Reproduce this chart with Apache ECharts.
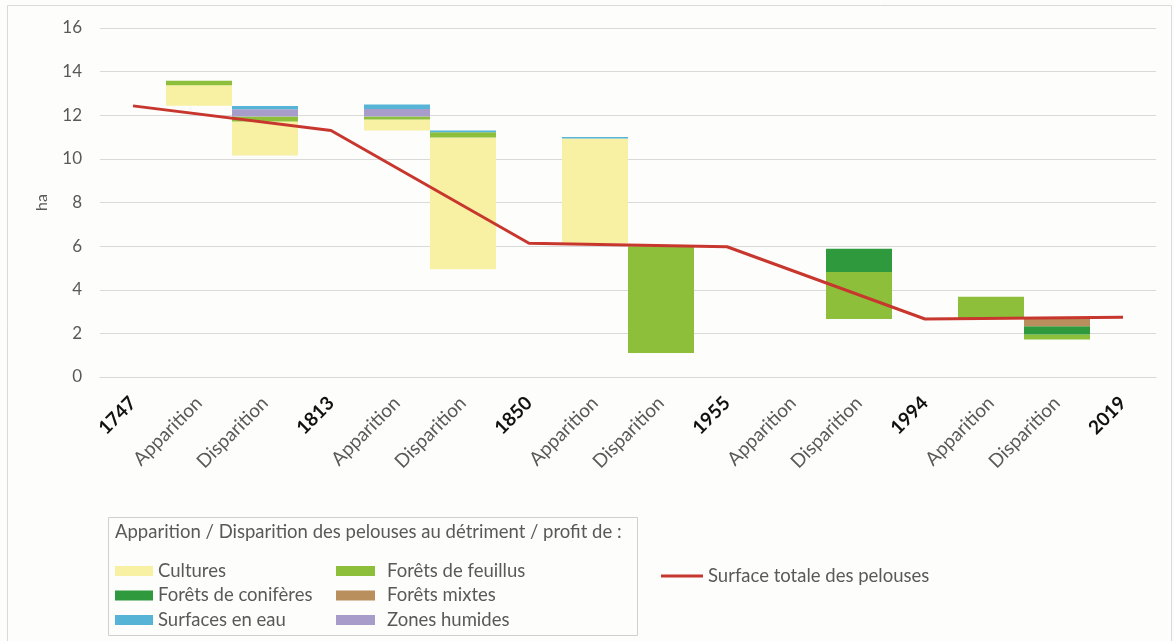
<!DOCTYPE html>
<html>
<head>
<meta charset="utf-8">
<script src="https://cdn.jsdelivr.net/npm/echarts@6/dist/echarts.min.js"></script>
<style>
  html, body { margin: 0; padding: 0; background: #fdfdfc; }
  #chart { width: 1174px; height: 641px; }
</style>
</head>
<body>
<div id="chart"></div>
<script>
// Surface totale des pelouses (ha) aux dates de référence
const years = ['1747', '1813', '1850', '1955', '1994', '2019'];
const surface = [12.43, 11.3, 6.13, 5.97, 2.66, 2.74];

// Apparition (gains) par période, selon l'occupation antérieure
const gainCultures  = [0.95, 0.50, 4.80, 0, 0];
const gainFeuillus  = [0.20, 0.14, 0, 0, 1.02];
const gainConiferes = [0, 0, 0, 0, 0];
const gainMixtes    = [0, 0, 0, 0, 0];
const gainHumides   = [0, 0.35, 0, 0, 0];
const gainEau       = [0, 0.20, 0.07, 0, 0];

// Disparition (pertes) par période, selon l'occupation postérieure
const lossCultures  = [1.56, 6.04, 0, 0, 0];
const lossFeuillus  = [0.23, 0.24, 4.90, 2.15, 0.23];
const lossConiferes = [0, 0, 0, 1.07, 0.38];
const lossMixtes    = [0, 0, 0, 0, 0.38];
const lossHumides   = [0.33, 0, 0, 0, 0];
const lossEau       = [0.15, 0.08, 0, 0, 0];

const labelApparition = 'Apparition';
const labelDisparition = 'Disparition';

const categories = [];
years.forEach((y, i) => {
  categories.push(y);
  if (i < years.length - 1) {
    categories.push(labelApparition, labelDisparition);
  }
});

const nPeriods = years.length - 1;
const gainsAll = [gainCultures, gainFeuillus, gainConiferes, gainMixtes, gainHumides, gainEau];

// Invisible base of each floating column
const baseData = categories.map(() => null);
for (let p = 0; p < nPeriods; p++) {
  const totalGain = gainsAll.reduce((s, arr) => s + arr[p], 0);
  baseData[3 * p + 1] = surface[p];
  baseData[3 * p + 2] = +(surface[p + 1] - totalGain).toFixed(3);
}

function pieceData(gain, loss) {
  const d = categories.map(() => null);
  for (let p = 0; p < nPeriods; p++) {
    d[3 * p + 1] = gain[p] || null;
    d[3 * p + 2] = loss[p] || null;
  }
  return d;
}

const lineData = categories.map(() => null);
years.forEach((y, i) => { lineData[3 * i] = surface[i]; });

const font = 'Lato, "Open Sans", sans-serif';
const grey = '#595959';

const pieces = [
  { name: 'Cultures',            color: '#f8f1a3', gain: gainCultures,  loss: lossCultures },
  { name: 'Forêts de feuillus',  color: '#8dbf3b', gain: gainFeuillus,  loss: lossFeuillus },
  { name: 'Forêts de conifères', color: '#2e9a3d', gain: gainConiferes, loss: lossConiferes },
  { name: 'Forêts mixtes',       color: '#b98f5d', gain: gainMixtes,    loss: lossMixtes },
  { name: 'Zones humides',       color: '#a89cca', gain: gainHumides,   loss: lossHumides },
  { name: 'Surfaces en eau',     color: '#56b4d6', gain: gainEau,       loss: lossEau }
];

const series = [{
  name: 'base',
  type: 'bar',
  stack: 'flux',
  barWidth: '100%',
  barCategoryGap: '0%',
  itemStyle: { color: 'transparent' },
  emphasis: { disabled: true },
  data: baseData,
  silent: true
}];
pieces.forEach(pc => {
  series.push({
    name: pc.name,
    type: 'bar',
    stack: 'flux',
    barWidth: '100%',
    barCategoryGap: '0%',
    itemStyle: { color: pc.color },
    data: pieceData(pc.gain, pc.loss)
  });
});
series.push({
  name: 'Surface totale des pelouses',
  type: 'line',
  data: lineData,
  connectNulls: true,
  symbol: 'none',
  lineStyle: { color: '#c8372d', width: 3 },
  itemStyle: { color: '#c8372d' },
  z: 5
});

const legendText = { fontFamily: font, fontSize: 18.5, color: grey, lineHeight: 20 };

const chart = echarts.init(document.getElementById('chart'), null, { renderer: 'canvas' });
chart.setOption({
  backgroundColor: '#fdfdfc',
  animation: false,
  textStyle: { fontFamily: font },
  grid: { left: 100, right: 18, top: 28, bottom: 264 },
  xAxis: {
    type: 'category',
    data: categories,
    axisTick: { show: false },
    axisLine: { lineStyle: { color: '#d9d9d9' } },
    axisLabel: {
      interval: 0,
      rotate: 45,
      margin: 23,
      formatter: v => (years.indexOf(v) >= 0 ? '{y|' + v + '}' : '{a|' + v + '}'),
      rich: {
        y: { fontFamily: font, fontSize: 19, fontWeight: 'bold', color: '#111' },
        a: { fontFamily: font, fontSize: 19, color: grey }
      }
    }
  },
  yAxis: {
    type: 'value',
    min: 0,
    max: 16,
    interval: 2,
    name: 'ha',
    nameLocation: 'middle',
    nameRotate: 90,
    nameGap: 50,
    nameTextStyle: { fontFamily: font, fontSize: 16, color: grey },
    axisLabel: { fontFamily: font, fontSize: 17, color: grey, margin: 18 },
    splitLine: { lineStyle: { color: '#d9d9d9' } },
    axisLine: { show: false },
    axisTick: { show: false }
  },
  legend: [
    {
      orient: 'vertical', left: 110, top: 556,
      itemWidth: 38, itemHeight: 10, itemGap: 4.5,
      icon: 'rect', textStyle: legendText,
      data: ['Cultures', 'Forêts de conifères', 'Surfaces en eau'],
      selectedMode: false
    },
    {
      orient: 'vertical', left: 331, top: 556,
      itemWidth: 39, itemHeight: 10, itemGap: 4.5,
      icon: 'rect',
      textStyle: Object.assign({}, legendText, { padding: [0, 0, 0, 7] }),
      data: ['Forêts de feuillus', 'Forêts mixtes', 'Zones humides'],
      selectedMode: false
    },
    {
      orient: 'horizontal', left: 656, top: 561,
      itemWidth: 42, itemHeight: 3,
      icon: 'rect', textStyle: legendText,
      data: ['Surface totale des pelouses'],
      selectedMode: false
    }
  ],
  graphic: [
    {
      type: 'polyline', silent: true,
      shape: { points: [[7.5, 641], [7.5, 5.5], [1171.5, 5.5], [1171.5, 641]] },
      style: { stroke: '#d9d9d9', fill: null, lineWidth: 1 }
    },
    {
      type: 'rect', silent: true,
      shape: { x: 108.5, y: 517.5, width: 529, height: 118 },
      style: { stroke: '#d0d0d0', fill: null, lineWidth: 1 }
    },
    {
      type: 'text', silent: true, left: 115, top: 523,
      style: {
        text: 'Apparition / Disparition des pelouses au détriment / profit de :',
        font: '18.5px ' + font, fill: grey
      }
    }
  ],
  series: series
});
</script>
</body>
</html>
